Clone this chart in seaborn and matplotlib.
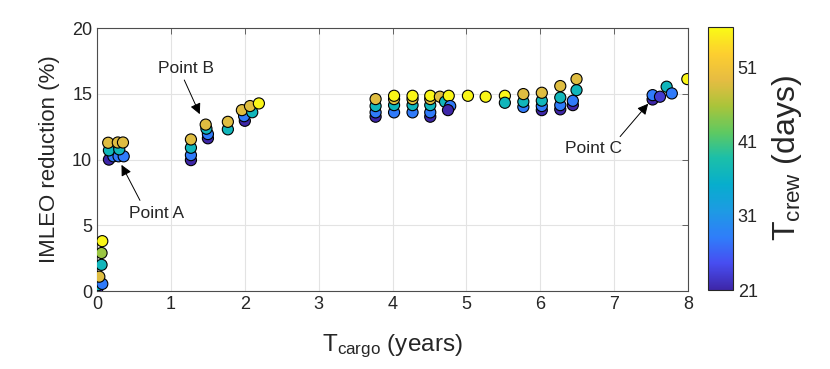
import numpy as np
import pandas as pd
import seaborn as sns
import matplotlib.pyplot as plt
from matplotlib.colors import LinearSegmentedColormap, Normalize
from matplotlib.cm import ScalarMappable

# cargo transfer time (years), IMLEO reduction (%), crew transfer time (days)
t_cargo = [0.00, 0.01, 0.07, 0.03, 0.06, 0.06, 0.07,
           0.16, 0.22, 0.16, 0.15, 0.29, 0.36, 0.30, 0.28, 0.35,
           1.27, 1.27, 1.27, 1.27,
           1.50, 1.50, 1.48, 1.47,
           1.77, 1.77,
           2.00, 1.99, 1.96, 2.10, 2.07, 2.19,
           3.77, 3.77, 3.77, 3.77,
           4.02, 4.02, 4.02, 4.02,
           4.27, 4.27, 4.27, 4.27,
           4.51, 4.51, 4.51, 4.51, 4.51,
           4.64, 4.71, 4.76, 4.78, 4.75,
           5.02, 5.26, 5.52, 5.52,
           5.77, 5.77, 5.77,
           6.02, 6.02, 6.02, 6.02,
           6.27, 6.27, 6.27, 6.27,
           6.44, 6.44, 6.49, 6.49,
           7.52, 7.52, 7.62, 7.71, 7.78, 7.99]
reduction = [0.05, 0.45, 0.55, 1.10, 2.00, 2.90, 3.80,
             10.00, 10.25, 10.70, 11.28, 10.25, 10.25, 10.78, 11.30, 11.30,
             9.96, 10.34, 10.90, 11.53,
             11.62, 11.94, 12.35, 12.66,
             12.30, 12.87,
             12.95, 13.30, 13.76, 13.60, 14.07, 14.27,
             13.26, 13.59, 14.07, 14.60,
             13.59, 14.14, 14.60, 14.85,
             13.59, 14.14, 14.60, 14.85,
             13.26, 13.59, 14.14, 14.60, 14.85,
             14.78, 14.40, 14.85, 14.07, 13.76,
             14.85, 14.78, 14.85, 14.32,
             14.00, 14.40, 14.98,
             13.76, 14.07, 14.48, 15.08,
             13.82, 14.14, 14.72, 15.59,
             14.14, 14.47, 15.28, 16.12,
             14.57, 14.90, 14.78, 15.54, 15.03, 16.12]
t_crew = [21, 37, 28, 49, 37, 45, 56,
          21, 28, 37, 49, 28, 28, 37, 49, 49,
          21, 28, 37, 49,
          21, 28, 37, 49,
          37, 49,
          21, 28, 49, 37, 49, 56,
          21, 28, 37, 49,
          28, 37, 49, 56,
          28, 37, 49, 56,
          21, 28, 37, 49, 56,
          49, 37, 56, 28, 21,
          56, 56, 56, 37,
          28, 37, 49,
          21, 28, 37, 49,
          21, 28, 37, 49,
          21, 28, 37, 49,
          21, 28, 23, 37, 28, 56]

df = pd.DataFrame({'t_cargo': t_cargo, 'reduction': reduction, 't_crew': t_crew})

# parula-like colormap
parula = LinearSegmentedColormap.from_list('parula', [
    (0.2422, 0.1504, 0.6603), (0.2783, 0.3039, 0.9455), (0.1859, 0.4915, 0.9803),
    (0.1157, 0.6054, 0.8915), (0.0265, 0.6803, 0.8033), (0.1044, 0.7480, 0.6654),
    (0.3694, 0.7886, 0.3830), (0.6663, 0.7694, 0.2260), (0.9044, 0.7384, 0.2583),
    (0.9926, 0.8092, 0.1856), (0.9769, 0.9839, 0.0805)])
norm = Normalize(vmin=21, vmax=56.5)

sns.set_style('white')
plt.rcParams['font.family'] = ['Liberation Sans', 'DejaVu Sans']
plt.rcParams['mathtext.default'] = 'regular'

fig = plt.figure(figsize=(8.3, 3.69), dpi=100)
ax = fig.add_axes([0.117, 0.211, 0.712, 0.713])
sns.scatterplot(data=df, x='t_cargo', y='reduction', hue='t_crew', palette=parula,
                hue_norm=norm, s=64, edgecolor='black', linewidth=0.8,
                legend=False, ax=ax, zorder=3)

ax.set_xlim(0, 8)
ax.set_ylim(0, 20)
ax.set_xticks(range(0, 9))
ax.set_yticks([0, 5, 10, 15, 20])
ax.grid(True, color='#e3e3e3', linewidth=0.8)
ax.set_axisbelow(True)
for sp in ax.spines.values():
    sp.set_color('#4d4d4d')
    sp.set_linewidth(0.8)
ax.tick_params(direction='in', length=4, width=0.6, color='#4d4d4d',
               labelsize=13, labelcolor='#262626', top=True, right=True)
ax.set_xlabel('T$_{cargo}$ (years)', fontsize=17.5, color='#262626', labelpad=14)
ax.set_ylabel('IMLEO reduction (%)', fontsize=16, color='#262626', labelpad=9)

arrow = dict(arrowstyle='-|>', color='k', lw=0.7, mutation_scale=16, shrinkA=0, shrinkB=0)
ax.text(0.81, 5.9, 'Point A', fontsize=12.5, ha='center', va='center')
ax.annotate('', xy=(0.33, 9.6), xytext=(0.58, 6.9), arrowprops=arrow)
ax.text(1.21, 16.95, 'Point B', fontsize=12.5, ha='center', va='center')
ax.annotate('', xy=(1.39, 13.45), xytext=(1.18, 16.05), arrowprops=arrow)
ax.text(6.72, 10.85, 'Point C', fontsize=12.5, ha='center', va='center')
ax.annotate('', xy=(7.46, 14.25), xytext=(7.08, 11.75), arrowprops=arrow)

cax = fig.add_axes([0.853, 0.214, 0.030, 0.713])
cb = fig.colorbar(ScalarMappable(norm=norm, cmap=parula), cax=cax)
cb.set_ticks([21, 31, 41, 51])
cb.outline.set_linewidth(0.8)
cb.outline.set_edgecolor('#262626')
cax.tick_params(direction='in', length=4, width=0.6, labelsize=13, labelcolor='#262626')
cb.set_label('T$_{crew}$ (days)', fontsize=23, color='#262626', labelpad=9)

fig.savefig('out.png', dpi=100)
